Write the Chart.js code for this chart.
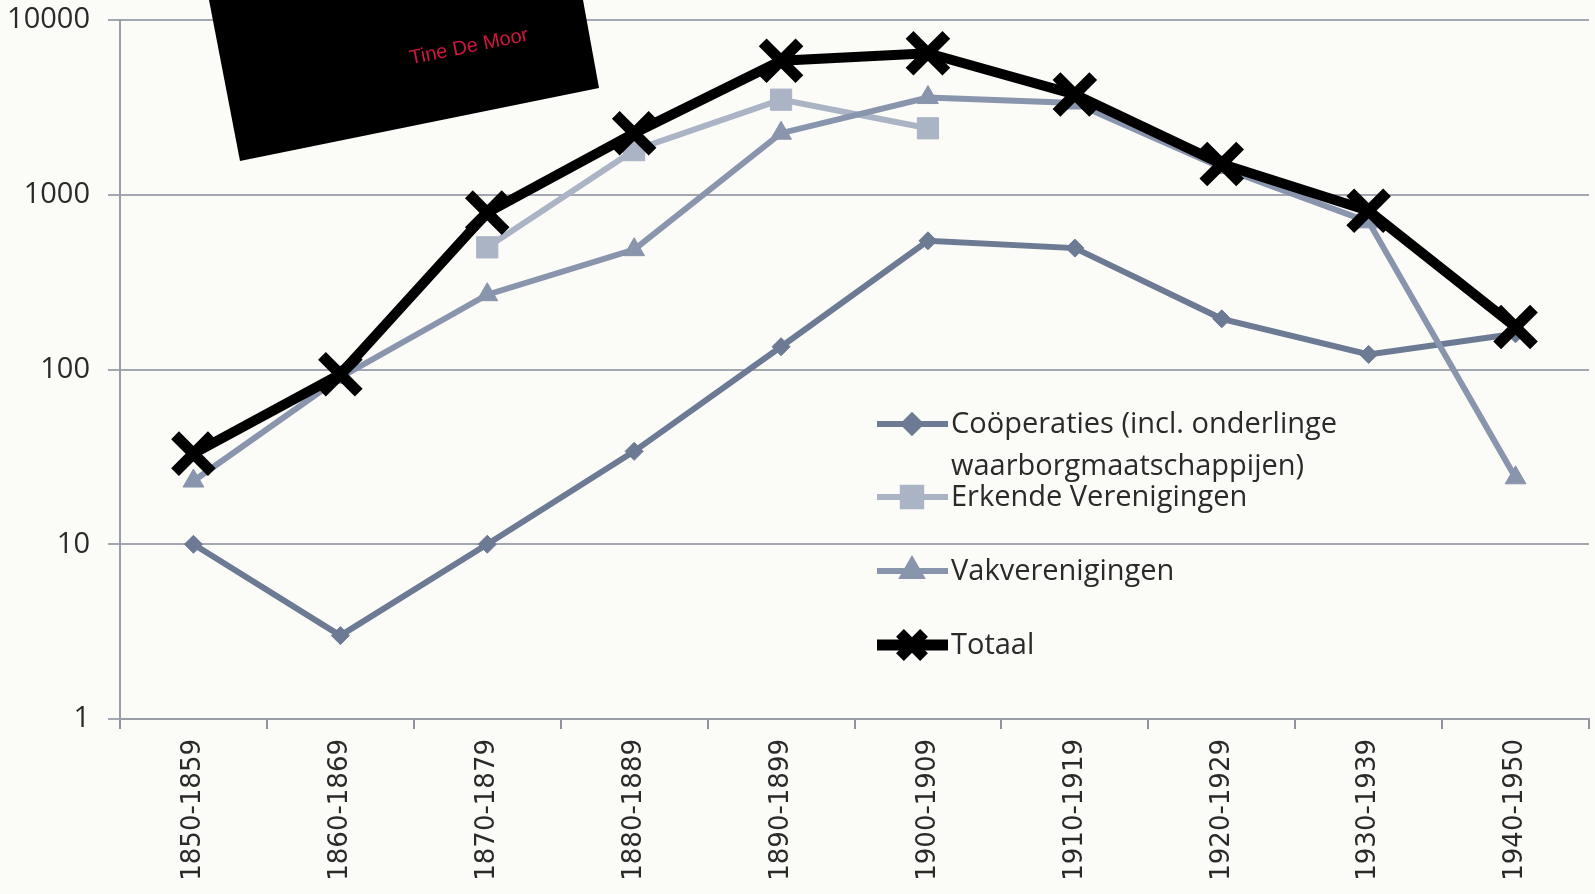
<!DOCTYPE html>
<html>
<head>
<meta charset="utf-8">
<script src="https://cdn.jsdelivr.net/npm/chart.js@4"></script>
<style>
html,body{margin:0;padding:0;background:#fbfbf8;}
#wrap{position:relative;width:1595px;height:894px;}
</style>
</head>
<body>
<div id="wrap"><canvas id="c" width="1595" height="894"></canvas></div>
<script>
const categories = ["1850-1859","1860-1869","1870-1879","1880-1889","1890-1899","1900-1909","1910-1919","1920-1929","1930-1939","1940-1950"];
const cooperaties = [10, 3, 10, 34, 135, 545, 495, 195, 122, 160];
const erkende = [null, null, 500, 1800, 3500, 2400, null, null, null, null];
const vakverenigingen = [23, 90, 268, 485, 2250, 3600, 3350, 1430, 700, 24];
const totaal = [33, 94, 790, 2250, 5850, 6450, 3750, 1500, 810, 175];
const yTicks = [1, 10, 100, 1000, 10000];
const seriesNames = ["Coöperaties (incl. onderlinge\nwaarborgmaatschappijen)", "Erkende Verenigingen", "Vakverenigingen", "Totaal"];

const cCoop = '#6d7a94', cErk = '#abb4c5', cVak = '#8995ac', cTot = '#000000';

const overlayPlugin = {
  id: 'overlay',
  beforeDraw(chart) {
    const ctx = chart.ctx;
    ctx.save();
    ctx.fillStyle = '#fbfbf8';
    ctx.fillRect(0, 0, chart.width, chart.height);
    ctx.restore();
  },
  afterDraw(chart) {
    const ctx = chart.ctx;
    // black photo rectangle pasted over the chart
    ctx.save();
    ctx.fillStyle = '#000';
    ctx.beginPath();
    ctx.moveTo(209, 0); ctx.lineTo(583, 0); ctx.lineTo(599, 88); ctx.lineTo(240, 161); ctx.closePath();
    ctx.fill();
    ctx.translate(469, 47);
    ctx.rotate(-0.2);
    ctx.fillStyle = '#d0163f';
    ctx.font = '20px "Liberation Sans", Arial';
    ctx.textAlign = 'center'; ctx.textBaseline = 'middle';
    ctx.fillText('Tine De Moor', 0, 0);
    ctx.restore();

    // legend inside the plot
    const items = [
      {ds: 0, y: 424, r: 8},
      {ds: 1, y: 497, r: 13},
      {ds: 2, y: 571, r: 10},
      {ds: 3, y: 645, r: 17}
    ];
    ctx.save();
    items.forEach(it => {
      const ds = chart.data.datasets[it.ds];
      ctx.strokeStyle = ds.borderColor;
      ctx.lineWidth = it.ds === 3 ? 11 : 6;
      ctx.beginPath(); ctx.moveTo(877, it.y); ctx.lineTo(948, it.y); ctx.stroke();
      ctx.fillStyle = ds.pointBackgroundColor;
      ctx.strokeStyle = ds.pointBorderColor;
      Chart.helpers.drawPoint(ctx, {
        pointStyle: ds.pointStyle,
        radius: it.r,
        borderWidth: it.ds === 3 ? 9 : 1,
        rotation: 0
      }, 912, it.y);
      ctx.fillStyle = '#2a2a2a';
      ctx.font = '29px "Open Sans", "Noto Sans", sans-serif';
      ctx.textAlign = 'left'; ctx.textBaseline = 'middle';
      const lines = ds.label.split('\n');
      lines.forEach((ln, i) => ctx.fillText(ln, 951, it.y + 1 + i * 42));
    });
    ctx.restore();
  }
};

new Chart(document.getElementById('c'), {
  type: 'line',
  data: {
    labels: categories,
    datasets: [
      { label: seriesNames[0], data: cooperaties, borderColor: cCoop, backgroundColor: cCoop,
        pointBackgroundColor: cCoop, pointBorderColor: cCoop, borderWidth: 6, pointStyle: 'rectRot',
        pointRadius: 9, pointBorderWidth: 1, order: 3 },
      { label: seriesNames[1], data: erkende, borderColor: cErk, backgroundColor: cErk,
        pointBackgroundColor: cErk, pointBorderColor: cErk, borderWidth: 6, pointStyle: 'rect',
        pointRadius: 15, pointBorderWidth: 1, order: 2 },
      { label: seriesNames[2], data: vakverenigingen, borderColor: cVak, backgroundColor: cVak,
        pointBackgroundColor: cVak, pointBorderColor: cVak, borderWidth: 6, pointStyle: 'triangle',
        pointRadius: 12, pointBorderWidth: 1, order: 1 },
      { label: seriesNames[3], data: totaal, borderColor: cTot, backgroundColor: cTot,
        pointBackgroundColor: cTot, pointBorderColor: cTot, borderWidth: 10, pointStyle: 'crossRot',
        pointRadius: 26, pointBorderWidth: 11, order: 0 }
    ]
  },
  options: {
    responsive: false,
    animation: false,
    devicePixelRatio: 1,
    layout: { autoPadding: false, padding: { top: 20, right: 6, left: 0, bottom: 0 } },
    plugins: { legend: { display: false }, tooltip: { enabled: false } },
    elements: { line: { tension: 0 } },
    scales: {
      x: {
        offset: true,
        grid: { drawOnChartArea: false, offset: true, color: '#8f949c', lineWidth: 2, tickLength: 10 },
        border: { color: '#9a9ea6', width: 2 },
        ticks: { minRotation: 90, maxRotation: 90, color: '#2a2a2a', padding: 10,
          font: { family: '"DejaVu Sans", Verdana, sans-serif', size: 26, lineHeight: 1 } },
        afterFit(s) { s.height = 175; s.paddingLeft = 0; s.paddingRight = 0; }
      },
      y: {
        type: 'logarithmic',
        min: 1, max: 10000,
        afterBuildTicks(s) { s.ticks = yTicks.map(v => ({ value: v })); },
        grid: { color: '#a3a7af', lineWidth: 2, tickLength: 12 },
        border: { color: '#9a9ea6', width: 2 },
        ticks: { color: '#2a2a2a', padding: 18, callback: v => String(v),
          font: { family: '"Open Sans", "Noto Sans", sans-serif', size: 29, lineHeight: 1 } },
        afterFit(s) { s.width = 120; s.paddingTop = 0; s.paddingBottom = 0; }
      }
    }
  },
  plugins: [overlayPlugin]
});
</script>
</body>
</html>
